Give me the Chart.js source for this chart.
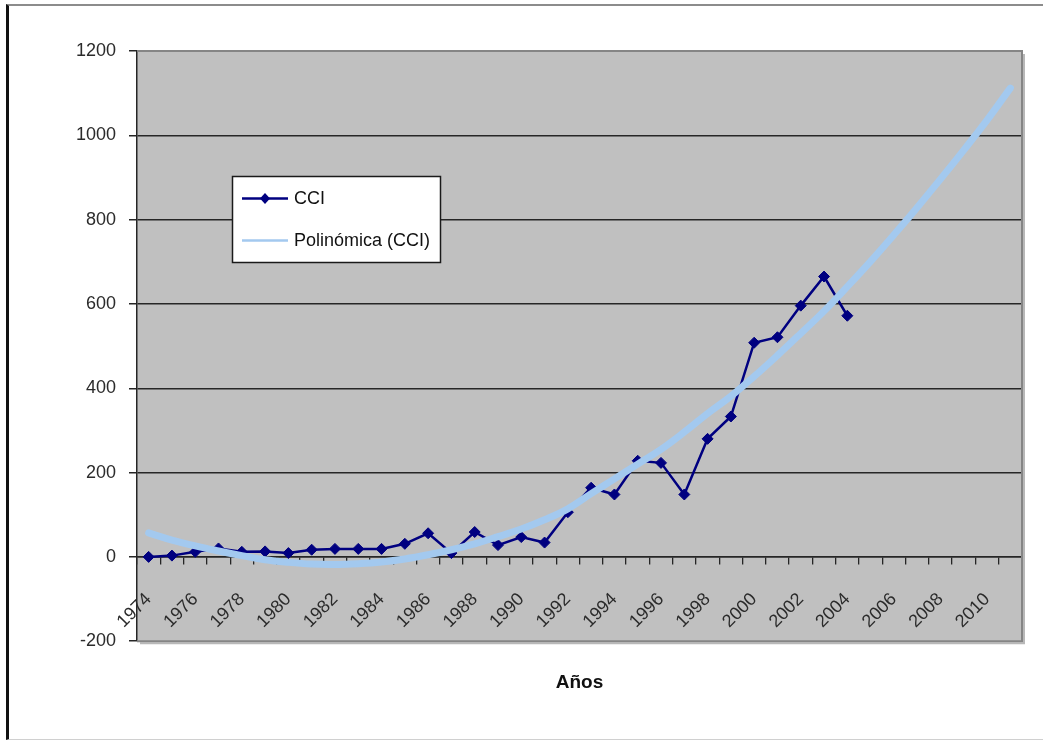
<!DOCTYPE html>
<html>
<head>
<meta charset="utf-8">
<title>CCI</title>
<script src="https://cdn.jsdelivr.net/npm/chart.js@4.4.1/dist/chart.umd.min.js"></script>
<style>
  html, body { margin: 0; padding: 0; background: #fff; }
  #wrap { position: relative; width: 1043px; height: 742px; overflow: hidden; }
  #wrap canvas { position: absolute; left: 0; top: 0; }
  #frame {
    position: absolute; left: 6px; top: 4px; width: 1040px; height: 736px;
    box-sizing: border-box; pointer-events: none;
    border-left: 3px solid #111; border-top: 2px solid #8c8c8c; border-bottom: 1px solid #d0d0d0;
  }
</style>
</head>
<body>
<div id="wrap">
  <canvas id="chart" width="1043" height="742"></canvas>
  <div id="frame"></div>
</div>
<script>
// Years on the category axis (trend is projected to 2011)
const years = [
  '1974','1975','1976','1977','1978','1979','1980','1981','1982','1983',
  '1984','1985','1986','1987','1988','1989','1990','1991','1992','1993',
  '1994','1995','1996','1997','1998','1999','2000','2001','2002','2003',
  '2004','2005','2006','2007','2008','2009','2010','2011'
];

// Observed CCI, 1974-2004
const cci = [
  0, 3, 12, 20, 12, 13, 9, 17, 19, 19,
  19, 31, 56, 9, 59, 28, 47, 34, 106, 164,
  148, 228, 223, 148, 280, 333, 508, 521, 596, 665,
  572
];

// Polynomial trend of CCI, 1974-2011
const cciTrend = [
  57, 40, 26, 14, 3, -7, -13, -17, -18, -16,
  -12, -5, 5, 17, 31, 48, 66, 88, 114, 150,
  185, 220, 255, 296, 340, 381, 428, 478, 530, 583,
  641, 701, 764, 829, 896, 965, 1036, 1112
];

// Value axis ticks
const yTicks = [-200, 0, 200, 400, 600, 800, 1000, 1200];

const labels = { cci: 'CCI', trend: 'Polinómica (CCI)', xTitle: 'Años' };

const FONT = "'Liberation Sans', Arial, sans-serif";
const NAVY = '#000080';
const TREND = '#a3c9ef';

// Grey plot background and its frame
const plotFrame = {
  id: 'plotFrame',
  beforeDraw(chart) {
    const { ctx, chartArea: a } = chart;
    ctx.save();
    ctx.fillStyle = '#c0c0c0';
    ctx.fillRect(a.left, a.top, a.right - a.left, a.bottom - a.top);
    ctx.restore();
  },
  afterDatasetsDraw(chart) {
    const { ctx, chartArea: a } = chart;
    ctx.save();
    // soft shadow
    ctx.strokeStyle = '#b8b8b8';
    ctx.lineWidth = 2;
    ctx.beginPath();
    ctx.moveTo(a.right + 2, a.top + 3);
    ctx.lineTo(a.right + 2, a.bottom + 2);
    ctx.lineTo(a.left + 3, a.bottom + 2);
    ctx.stroke();
    // frame (left side is the value axis line)
    ctx.strokeStyle = '#858585';
    ctx.lineWidth = 2;
    ctx.beginPath();
    ctx.moveTo(a.left, a.top);
    ctx.lineTo(a.right, a.top);
    ctx.lineTo(a.right, a.bottom);
    ctx.lineTo(a.left, a.bottom);
    ctx.stroke();
    ctx.restore();
  }
};

// Boxed legend inside the plot
const boxLegend = {
  id: 'boxLegend',
  afterDraw(chart) {
    const ctx = chart.ctx;
    const bx = 232.5, by = 176.5, bw = 208, bh = 86;
    ctx.save();
    ctx.fillStyle = '#ffffff';
    ctx.fillRect(bx, by, bw, bh);
    ctx.strokeStyle = '#1a1a1a';
    ctx.lineWidth = 1.5;
    ctx.strokeRect(bx, by, bw, bh);

    const rows = [chart.data.datasets[0], chart.data.datasets[1]];
    const rowY = [198.5, 240.5];
    rows.forEach((ds, i) => {
      const y = rowY[i];
      ctx.strokeStyle = ds.borderColor;
      ctx.lineWidth = 2.5;
      ctx.beginPath();
      ctx.moveTo(242, y);
      ctx.lineTo(288, y);
      ctx.stroke();
      if (ds.pointRadius > 0) {
        ctx.fillStyle = ds.pointBackgroundColor;
        ctx.beginPath();
        ctx.moveTo(265 - 5, y); ctx.lineTo(265, y - 5.5); ctx.lineTo(265 + 5, y); ctx.lineTo(265, y + 5.5);
        ctx.closePath();
        ctx.fill();
      }
      ctx.fillStyle = '#111';
      ctx.font = '18px ' + FONT;
      ctx.textAlign = 'left';
      ctx.textBaseline = 'middle';
      ctx.fillText(ds.label, 294, y + 1);
    });
    ctx.restore();
  }
};

new Chart(document.getElementById('chart'), {
  type: 'line',
  data: {
    labels: years,
    datasets: [
      {
        label: labels.cci,
        data: cci,
        borderColor: NAVY,
        backgroundColor: NAVY,
        borderWidth: 2.5,
        pointStyle: 'rectRot',
        pointRadius: 5.5,
        pointBackgroundColor: NAVY,
        pointBorderColor: NAVY,
        pointBorderWidth: 1,
        tension: 0,
        order: 1
      },
      {
        label: labels.trend,
        data: cciTrend,
        borderColor: TREND,
        backgroundColor: TREND,
        borderWidth: 7,
        pointRadius: 0,
        tension: 0.4,
        borderCapStyle: 'round',
        order: 0
      }
    ]
  },
  options: {
    responsive: false,
    animation: false,
    events: [],
    layout: { padding: { left: 0, top: 51, right: 21, bottom: 48 } },
    scales: {
      y: {
        type: 'linear',
        position: 'left',
        min: yTicks[0],
        max: yTicks[yTicks.length - 1],
        afterBuildTicks(scale) {
          scale.ticks = yTicks.map(v => ({ value: v }));
        },
        afterFit(scale) { scale.width = 137; },
        grid: {
          color: c => (c.tick && (c.tick.value === yTicks[0] || c.tick.value === yTicks[yTicks.length - 1])) ? 'rgba(0,0,0,0)' : '#262626',
          lineWidth: 1.5,
          drawTicks: true,
          tickLength: 8,
          tickColor: '#262626'
        },
        border: { display: true, color: '#262626', width: 1.5 },
        ticks: {
          padding: 13,
          color: '#2b2b2b',
          font: { family: FONT, size: 18 },
          callback: v => String(v)
        }
      },
      x: {
        type: 'category',
        position: { y: 0 },
        offset: true,
        afterFit(scale) {
          // rotated labels stay inside the plot; no side padding needed
          scale.paddingLeft = 0;
          scale.paddingRight = 0;
        },
        grid: {
          display: true,
          offset: true,
          drawOnChartArea: false,
          drawTicks: true,
          tickLength: 7,
          tickColor: '#262626',
          lineWidth: 1.3
        },
        border: { display: true, color: '#262626', width: 1.5 },
        ticks: {
          autoSkip: false,
          minRotation: 45,
          maxRotation: 45,
          padding: 25,
          color: '#2b2b2b',
          font: { family: FONT, size: 18 },
          callback: (v, i) => (i % 2 === 0 ? years[i] : '')
        }
      }
    },
    plugins: {
      legend: { display: false },
      tooltip: { enabled: false },
      title: {
        display: true,
        text: labels.xTitle,
        position: 'bottom',
        fullSize: false,
        color: '#111',
        font: { family: FONT, size: 19, weight: 'bold' },
        padding: { top: 30, bottom: 0 }
      }
    }
  },
  plugins: [plotFrame, boxLegend]
});
</script>
</body>
</html>
